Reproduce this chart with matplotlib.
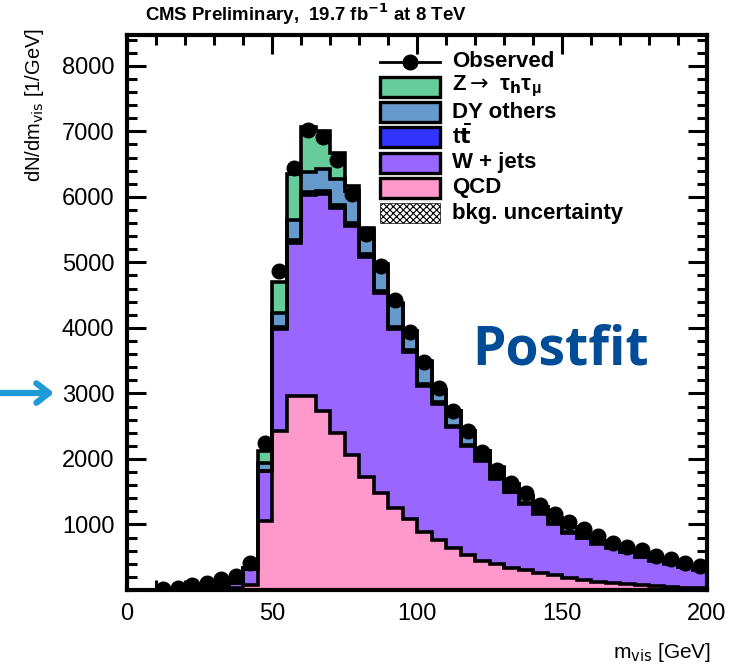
import numpy as np
import matplotlib
matplotlib.use("Agg")
import matplotlib.pyplot as plt
from matplotlib.patches import Rectangle
from matplotlib.ticker import MultipleLocator

# 5 GeV bins from 0 to 200
edges = np.arange(0, 205, 5)

qcd = [0, 0, 3, 8, 12, 18, 25, 30, 80, 1055, 2425, 2966, 2966, 2730, 2400, 2064,
       1728, 1473, 1259, 1085, 890, 760, 635, 540, 443, 392, 332, 301, 260, 229,
       179, 158, 127, 112, 87, 76, 57, 46, 35, 26]
wjets = [0, 0, 2, 7, 18, 30, 55, 80, 235, 754, 1561, 2334, 3058, 3320, 3436, 3486,
         3353, 3060, 2727, 2544, 2229, 2080, 1847, 1662, 1529, 1301, 1156, 1009, 907, 785,
         697, 632, 581, 535, 494, 429, 391, 356, 317, 275]
ttbar = [0, 0, 0, 0, 0, 0, 0, 1, 3, 10, 25, 40, 45, 45, 45, 45,
         40, 35, 30, 28, 25, 22, 20, 18, 16, 14, 12, 11, 10, 9,
         8, 7, 6, 5, 4, 4, 3, 3, 3, 2]
dy_others = [0, 0, 0, 2, 3, 5, 8, 10, 15, 112, 214, 313, 312, 337, 399, 495,
             368, 380, 347, 295, 340, 187, 230, 207, 134, 160, 113, 114, 90, 72,
             78, 28, 35, 16, 11, 11, 12, 12, 12, 13]
ztautau = [0, 0, 0, 0, 0, 0, 0, 0, 5, 194, 475, 703, 689, 576, 382, 72,
           41, 30, 15, 8, 7, 5, 5, 4, 3, 3, 3, 2, 2, 1,
           1, 1, 0, 0, 0, 0, 0, 0, 0, 0]
observed = [np.nan, np.nan, 10, 35, 76, 112, 163, 214, 417, 2250, 4870, 6440, 7025, 6915,
            6560, 6050, 5440, 4950, 4420, 3935, 3475, 3084, 2737, 2420, 2110, 1830,
            1640, 1473, 1300, 1167, 1044, 928, 826, 723, 658, 607, 520, 469, 417, 367]

processes = [
    ("QCD", qcd, "#ff99cc"),
    ("W + jets", wjets, "#9966ff"),
    (r"t$\mathbf{\bar{t}}$", ttbar, "#3333ff"),
    ("DY others", dy_others, "#6699cc"),
    (r"Z$\rightarrow$ $\mathregular{\tau_{\mathbf{h}}\tau_{\mu}}$", ztautau, "#66cc99"),
]

plt.rcParams['font.family'] = ['Liberation Sans', 'DejaVu Sans']
plt.rcParams['hatch.linewidth'] = 0.8

W, H = 732, 670
fig = plt.figure(figsize=(W / 100, H / 100), dpi=100)
ax = fig.add_axes([127 / W, 80 / H, 580 / W, 555 / H])

# stacked histogram, bottom to top
bottom = np.zeros(len(edges) - 1)
tops = []
for name, vals, col in processes:
    top = bottom + np.array(vals, dtype=float)
    ax.stairs(top, edges, baseline=bottom, fill=True, color=col, zorder=2)
    tops.append(top)
    bottom = top
for top in tops:
    ax.stairs(top, edges, baseline=0, color="black", lw=2.6, zorder=3)

centers = 0.5 * (edges[:-1] + edges[1:])
ax.plot(centers, observed, "o", color="black", ms=10.5, zorder=5)

ax.set_xlim(0, 200)
ax.set_ylim(0, 8470)
ax.xaxis.set_major_locator(MultipleLocator(50))
ax.xaxis.set_minor_locator(MultipleLocator(10))
ax.yaxis.set_major_locator(MultipleLocator(1000))
ax.yaxis.set_minor_locator(MultipleLocator(200))
ax.tick_params(which="both", direction="in", top=True, right=True, width=2.2)
ax.tick_params(which="major", length=14, labelsize=17, pad=9)
ax.tick_params(which="minor", length=7)
ax.set_yticks(np.arange(1000, 9000, 1000))
for s in ax.spines.values():
    s.set_linewidth(3)

fig.text(35 / W, 1 - 28 / H, r"dN/dm$_{\rm vis}$ [1/GeV]", rotation=90,
         ha="center", va="top", fontsize=14.5)
fig.text(711 / W, 1 - 652 / H, r"m$_{\rm vis}$ [GeV]", ha="right", va="center",
         fontsize=15)
fig.text(145 / W, 1 - 14 / H, r"CMS Preliminary,  19.7 fb$^{\mathbf{-1}}$ at 8 TeV",
         ha="left", va="center", fontsize=13.4, fontweight="bold")

# legend drawn by hand so rows can sit as tight as in the original
def px(x, y):
    return x / W, 1 - y / H

rows = [("Observed", None, None)]
for name, vals, col in processes[::-1]:
    rows.append((name, col, None))
rows.append(("bkg. uncertainty", "white", "xxxxx"))
for i, (label, col, hatch) in enumerate(rows):
    yc = 61.5 + 25.3 * i
    if col is None:
        fig.add_artist(plt.Line2D([380 / W, 440 / W], [1 - yc / H] * 2, color="black", lw=2))
        fig.add_artist(plt.Line2D([410 / W], [1 - yc / H], marker="o", color="black", ms=10.5))
    else:
        x0, y0 = px(380, yc + 10)
        fig.add_artist(Rectangle((x0, y0), 60 / W, 20 / H, transform=fig.transFigure,
                                 facecolor=col, edgecolor="black",
                                 lw=0.5 if hatch else 2.4, hatch=hatch))
    fig.text(452 / W, 1 - yc / H, label, ha="left", va="center", fontsize=16,
             fontweight="bold")

ax.text(0.747, 0.432, "Postfit", transform=ax.transAxes, ha="center", va="center",
        fontsize=38.5, fontweight="bold", color="#004c97", family="Open Sans")

# arrow pointing at the 3000 label
ax.annotate("", xy=(54 / W, 1 - 393 / H), xytext=(0, 1 - 393 / H),
            xycoords="figure fraction", textcoords="figure fraction",
            arrowprops=dict(arrowstyle="->,head_length=0.9,head_width=0.7",
                            color="#1e9bd7", lw=4.5, shrinkA=0, shrinkB=0),
            annotation_clip=False)

plt.savefig("out.png", dpi=100)
